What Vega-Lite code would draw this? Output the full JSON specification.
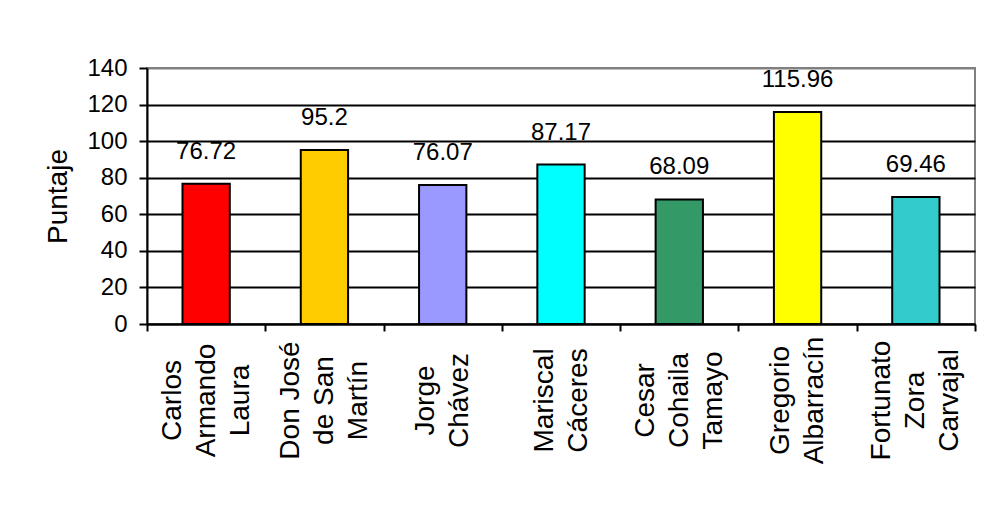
{
  "$schema": "https://vega.github.io/schema/vega-lite/v6.json",
  "width": 828,
  "height": 256,
  "autosize": {"type": "none"},
  "padding": {"left": 147, "top": 68, "right": 7, "bottom": 181},
  "background": "white",
  "config": {
    "font": "Liberation Sans",
    "view": {"stroke": "#808080", "strokeWidth": 2},
    "axis": {
      "domainColor": "black",
      "domainWidth": 2,
      "tickColor": "black",
      "tickWidth": 2,
      "labelColor": "black",
      "titleColor": "black",
      "gridColor": "black",
      "gridWidth": 2,
      "gridOpacity": 1
    }
  },
  "data": {
    "values": [
      {"escuela": "Carlos Armando Laura", "puntaje": 76.72},
      {"escuela": "Don José de San Martín", "puntaje": 95.2},
      {"escuela": "Jorge Chávez", "puntaje": 76.07},
      {"escuela": "Mariscal Cáceres", "puntaje": 87.17},
      {"escuela": "Cesar Cohaila Tamayo", "puntaje": 68.09},
      {"escuela": "Gregorio Albarracín", "puntaje": 115.96},
      {"escuela": "Fortunato Zora Carvajal", "puntaje": 69.46}
    ]
  },
  "encoding": {
    "x": {
      "field": "escuela",
      "type": "nominal",
      "sort": null,
      "scale": {"paddingInner": 0, "paddingOuter": 0},
      "axis": {
        "title": null,
        "tickBand": "extent",
        "tickSize": 7,
        "labelAngle": -90,
        "labelAlign": "center",
        "labelBaseline": "middle",
        "labelFontSize": 28,
        "labelLineHeight": 34,
        "labelPadding": 69,
        "labelLimit": 0,
        "labelOffset": {"condition": {"test": "length(split(datum.value, ' ')) >= 3", "value": -34}, "value": -17},
        "labelExpr": "datum.label == 'Don José de San Martín' ? ['Don José', 'de San', 'Martín'] : split(datum.label, ' ')"
      }
    },
    "y": {
      "field": "puntaje",
      "type": "quantitative",
      "scale": {"domain": [0, 140], "nice": false},
      "axis": {
        "title": "Puntaje",
        "titleFontSize": 28,
        "titleFontWeight": "normal",
        "titlePadding": 14,
        "values": [0, 20, 40, 60, 80, 100, 120, 140],
        "labelFontSize": 24,
        "labelPadding": 12,
        "tickSize": 8,
        "grid": true,
        "gridColor": {"condition": {"test": "datum.value === 140", "value": "#808080"}, "value": "black"}
      }
    }
  },
  "layer": [
    {
      "mark": {"type": "bar", "stroke": "black", "strokeWidth": 2, "width": {"band": 0.4}},
      "encoding": {
        "fill": {
          "field": "escuela",
          "type": "nominal",
          "legend": null,
          "scale": {
            "domain": ["Carlos Armando Laura", "Don José de San Martín", "Jorge Chávez", "Mariscal Cáceres", "Cesar Cohaila Tamayo", "Gregorio Albarracín", "Fortunato Zora Carvajal"],
            "range": ["#FF0000", "#FFCC00", "#9999FF", "#00FFFF", "#339966", "#FFFF00", "#33CCCC"]
          }
        }
      }
    },
    {
      "mark": {"type": "text", "dy": -25, "baseline": "alphabetic", "fontSize": 24, "color": "black"},
      "encoding": {
        "text": {"field": "puntaje", "type": "quantitative", "format": ".2~f"}
      }
    }
  ]
}
